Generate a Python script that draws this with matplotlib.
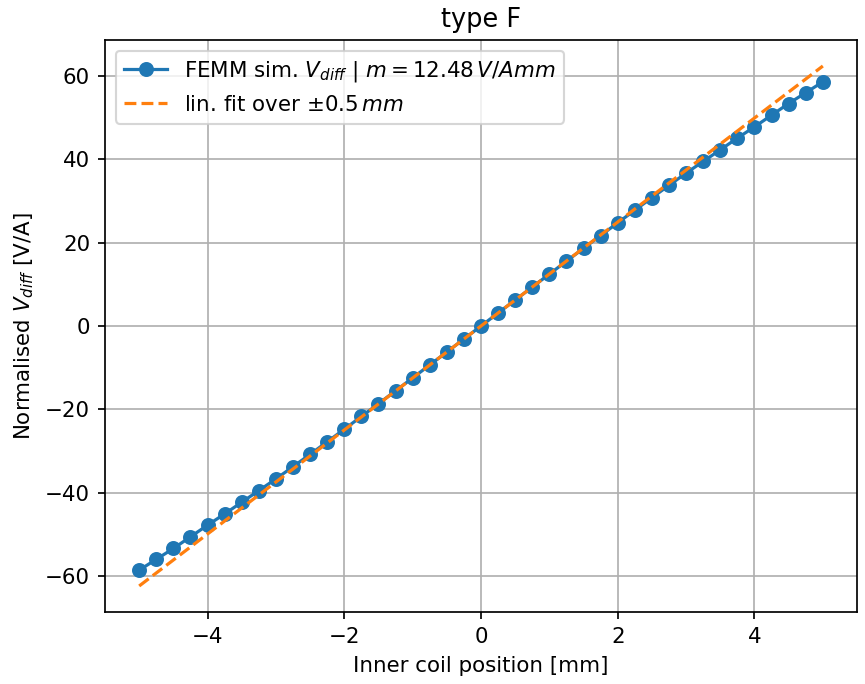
import numpy as np
import matplotlib
matplotlib.use("Agg")
import matplotlib.pyplot as plt

# Inner coil position sweep [mm]
pos_mm = np.arange(-5, 5.01, 0.25)

# Simulated normalised differential voltage [V/A], positive half (0 .. 5 mm)
v_half = [0.0, 3.12, 6.24, 9.35, 12.46, 15.56, 18.65, 21.72, 24.77, 27.8,
          30.8, 33.77, 36.7, 39.5, 42.3, 45.1, 47.8, 50.6, 53.4, 56.0, 58.6]
# antisymmetric around centre
v_diff = np.array([-v for v in v_half[:0:-1]] + v_half)

slope = 12.48  # V/(A mm), fitted over +-0.5 mm
fit_x = np.array([-5, 5])

fig, ax = plt.subplots(figsize=(865 / 154, 684 / 154), dpi=154)
ax.plot(pos_mm, v_diff, "o-", color="tab:blue",
        label=r"FEMM sim. $V_{diff}$ | $m = 12.48\,V/Amm$")
ax.plot(fit_x, slope * fit_x, "--", color="tab:orange",
        label=r"lin. fit over $\pm0.5\,mm$")
ax.set_title("type F")
ax.set_xlabel("Inner coil position [mm]")
ax.set_ylabel(r"Normalised $V_{diff}$ [V/A]")
ax.grid(True)
ax.legend(loc="upper left")
fig.subplots_adjust(left=0.1214, right=0.9908, top=0.9415, bottom=0.1053)
plt.savefig("out.png")
